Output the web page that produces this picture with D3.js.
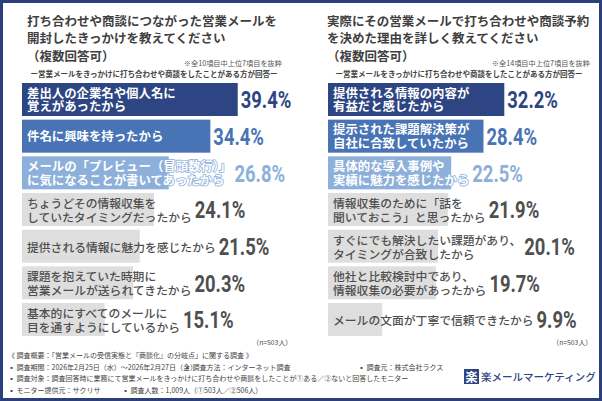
<!DOCTYPE html>
<html>
<head>
<meta charset="utf-8">
<script src="https://cdn.jsdelivr.net/npm/d3@7"></script>
<style>
  body { margin: 0; background: #fff; }
  svg { display: block; }
</style>
</head>
<body>
<div id="chart"></div>
<script>
// data
var leftTitle = ["打ち合わせや商談につながった営業メールを", "開封したきっかけを教えてください", "（複数回答可）"];
var leftNote = "※全10項目中上位7項目を抜粋";
var leftLabels = [
  ["差出人の企業名や個人名に", "覚えがあったから"],
  ["件名に興味を持ったから"],
  ["メールの「プレビュー（冒頭数行）」", "に気になることが書いてあったから"],
  ["ちょうどその情報収集を", "していたタイミングだったから"],
  ["提供される情報に魅力を感じたから"],
  ["課題を抱えていた時期に", "営業メールが送られてきたから"],
  ["基本的にすべてのメールに", "目を通すようにしているから"]
];
var leftValues = [39.4, 34.4, 26.8, 24.1, 21.5, 20.3, 15.1];

var rightTitle = ["実際にその営業メールで打ち合わせや商談予約", "を決めた理由を詳しく教えてください", "（複数回答可）"];
var rightNote = "※全14項目中上位7項目を抜粋";
var rightLabels = [
  ["提供される情報の内容が", "有益だと感じたから"],
  ["提示された課題解決策が", "自社に合致していたから"],
  ["具体的な導入事例や", "実績に魅力を感じたから"],
  ["情報収集のために「話を", "聞いておこう」と思ったから"],
  ["すぐにでも解決したい課題があり、", "タイミングが合致したから"],
  ["他社と比較検討中であり、", "情報収集の必要があったから"],
  ["メールの文面が丁寧で信頼できたから"]
];
var rightValues = [32.2, 28.4, 22.5, 21.9, 20.1, 19.7, 9.9];

var subNote = "ー営業メールをきっかけに打ち合わせや商談をしたことがある方が回答ー";
var nText = "（n=503人）";

var footerLines = [
  [{x: 8, t: "《 調査概要：「営業メールの受信実態と『商談化』の分岐点」に関する調査 》"}],
  [{x: 8, t: "▪ 調査期間：2026年2月25日（水）～2026年2月27日（金）"}, {x: 184, t: "▪ 調査方法：インターネット調査"}, {x: 358, t: "▪ 調査元：株式会社ラクス"}],
  [{x: 8, t: "▪ 調査対象：調査回答時に業務にて営業メールをきっかけに打ち合わせや商談をしたことが①ある／②ないと回答したモニター"}],
  [{x: 8, t: "▪ モニター提供元：サクリサ"}, {x: 122, t: "▪ 調査人数：1,009人（①503人／②506人）"}]
];

var barColors = ["#2d4583", "#4874b5", "#8db0da"];
var grayBar = "#dedede";
var valueColors = ["#2d4583", "#4874b5", "#8db0da"];
var grayText = "#4f4f4f";

var W = 602, H = 401;
var jp = "'Noto Sans CJK JP', 'Noto Sans', sans-serif";
var num = "'Roboto', 'Liberation Sans', sans-serif";

var svg = d3.select("#chart").append("svg")
  .attr("width", W).attr("height", H);

svg.append("rect").attr("x", 0).attr("y", 0).attr("width", W).attr("height", H).attr("fill", "#fff");

var x = d3.scaleLinear().domain([0, 40]).range([0, 219]);
var y = d3.scaleBand().domain(d3.range(7)).range([83, 336]).paddingInner(0.1);

function panel(ox, barX, title, note, noteRight, subCenter, labels, values, nRight) {
  var g = svg.append("g");

  g.selectAll(".title").data(title).enter().append("text")
    .attr("x", ox).attr("y", function (d, i) { return 20 + i * 17.5; })
    .attr("dominant-baseline", "central")
    .style("font-family", jp).style("font-size", "12.5px").style("font-weight", "bold")
    .style("fill", "#3f3f3f")
    .text(function (d) { return d; });

  g.append("text")
    .attr("x", noteRight).attr("y", 63)
    .attr("text-anchor", "end").attr("dominant-baseline", "central")
    .style("font-family", jp).style("font-size", "7.2px").style("fill", "#555")
    .text(note);

  g.append("text")
    .attr("x", subCenter).attr("y", 73.5)
    .attr("text-anchor", "middle").attr("dominant-baseline", "central")
    .style("font-family", jp).style("font-size", "7.5px").style("font-weight", "bold")
    .style("fill", "#444")
    .text(subNote);

  var rows = g.selectAll(".row").data(values).enter().append("g").attr("class", "row");

  rows.append("rect")
    .attr("x", barX)
    .attr("y", function (d, i) { return y(i); })
    .attr("width", function (d) { return x(d); })
    .attr("height", y.bandwidth())
    .attr("fill", function (d, i) { return i < 3 ? barColors[i] : grayBar; });

  rows.each(function (d, i) {
    var row = d3.select(this);
    var lines = labels[i];
    var cy = y(i) + y.bandwidth() / 2;
    var top = i < 3;
    var txt = row.append("text")
      .style("font-family", jp)
      .style("font-size", top ? "12.4px" : "11.8px")
      .style("font-weight", top ? "bold" : "500")
      .style("fill", top ? "#fff" : grayText);
    if (top) {
      txt.style("stroke", barColors[i]).style("stroke-width", "1.6px")
        .style("paint-order", "stroke").style("stroke-linejoin", "round");
    }
    var end = 0;
    lines.forEach(function (l, k) {
      var ly = lines.length === 1 ? cy : cy + (k === 0 ? -6.9 : 6.9);
      var ts = txt.append("tspan")
        .attr("x", barX + 5).attr("y", ly)
        .attr("dominant-baseline", "central")
        .text(l);
      end = Math.max(end, ts.node().getComputedTextLength());
    });
    var vx = Math.max(barX + x(d), barX + 5 + end) + 3;
    row.append("text")
      .attr("transform", "translate(" + vx + "," + (cy + 1) + ") scale(0.8,1)")
      .attr("dominant-baseline", "central")
      .style("font-family", num).style("font-size", "23px").style("font-weight", "bold")
      .style("fill", top ? valueColors[i] : grayText)
      .text(d.toFixed(1) + "%");
  });

  g.append("text")
    .attr("x", nRight).attr("y", 342)
    .attr("text-anchor", "end").attr("dominant-baseline", "central")
    .style("font-family", jp).style("font-size", "6.8px").style("fill", "#444")
    .text(nText);
}

panel(27, 22, leftTitle, leftNote, 282, 154, leftLabels, leftValues, 292);
panel(327, 328, rightTitle, rightNote, 590, 459, rightLabels, rightValues, 592);

// footer
footerLines.forEach(function (line, i) {
  svg.selectAll(null).data(line).enter().append("text")
    .attr("x", function (d) { return d.x; })
    .attr("y", 355 + i * 11.6)
    .attr("dominant-baseline", "central")
    .style("font-family", jp).style("font-size", "7px").style("fill", "#444")
    .text(function (d) { return d.t; });
});

// logo
svg.append("rect").attr("x", 464).attr("y", 369).attr("width", 15).attr("height", 15).attr("fill", "#2d4583");
svg.append("text").attr("x", 471.5).attr("y", 376.5)
  .attr("text-anchor", "middle").attr("dominant-baseline", "central")
  .style("font-family", jp).style("font-size", "12px").style("font-weight", "bold").style("fill", "#fff")
  .text("楽");
svg.append("text").attr("x", 481).attr("y", 376.5)
  .attr("dominant-baseline", "central")
  .style("font-family", jp).style("font-size", "10.5px").style("font-weight", "500").style("fill", "#2d4583")
  .text("楽メールマーケティング");

// outer frame
svg.append("rect").attr("x", 1.5).attr("y", 1.5).attr("width", W - 3).attr("height", H - 3)
  .attr("fill", "none").attr("stroke", "#2b3f7d").attr("stroke-width", 3);
</script>
</body>
</html>
